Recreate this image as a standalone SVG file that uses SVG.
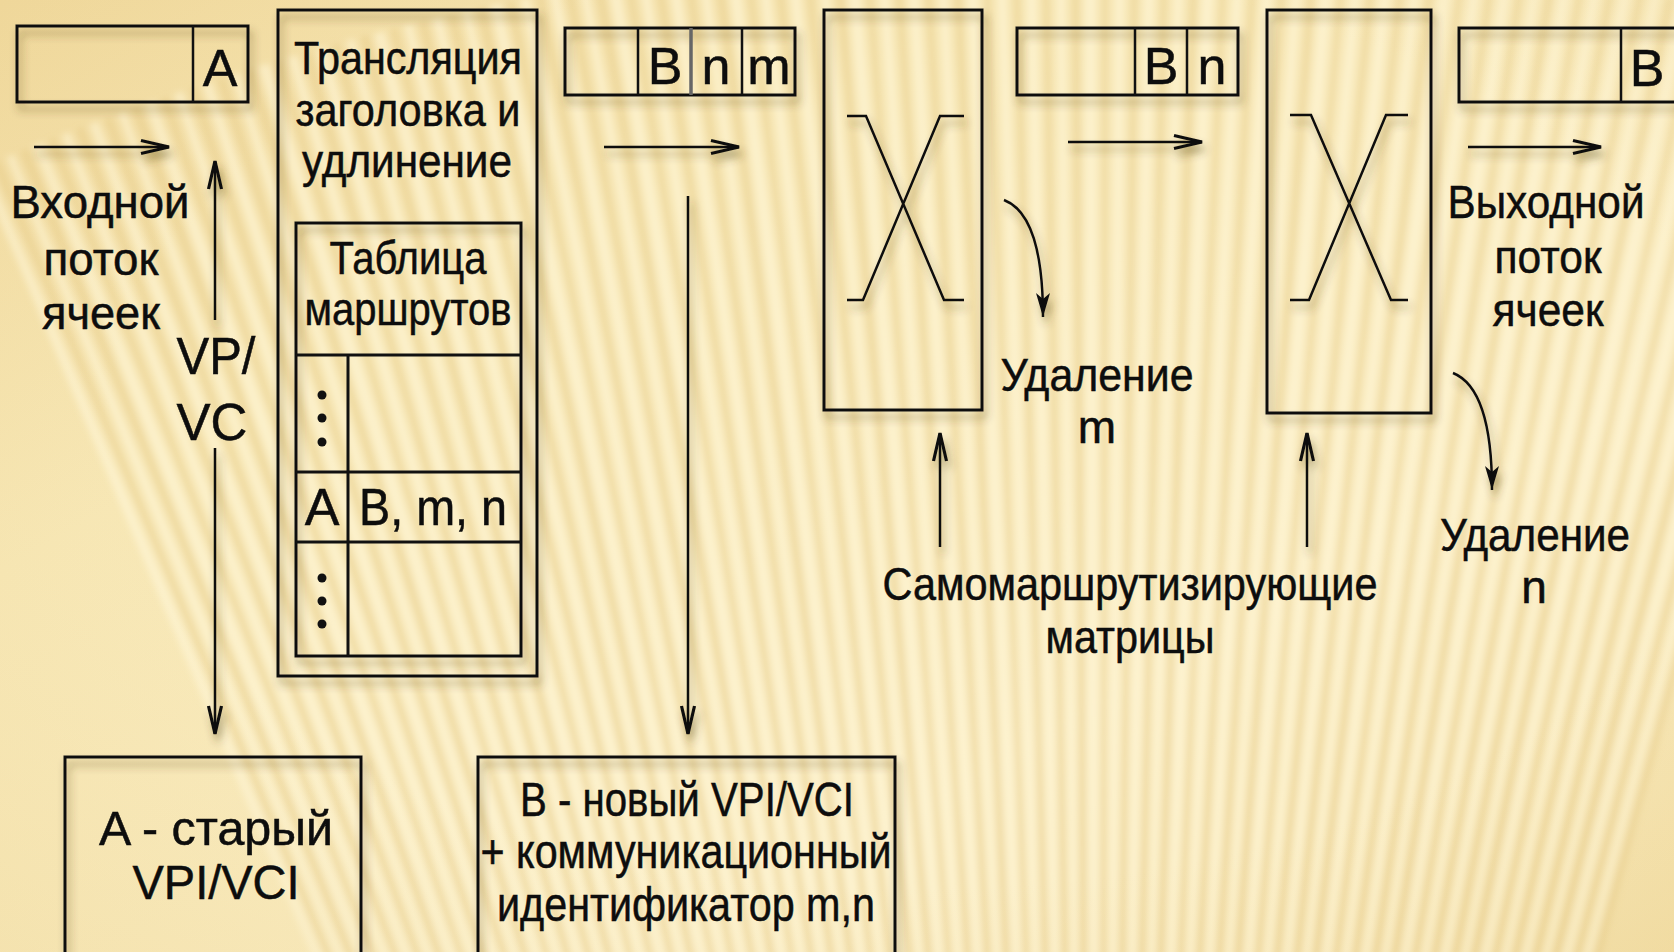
<svg xmlns="http://www.w3.org/2000/svg" xmlns:xlink="http://www.w3.org/1999/xlink" width="1674" height="952" viewBox="0 0 1674 952">
  <style>
    .t{font-family:"Liberation Sans",Arial,sans-serif;font-size:46px;fill:#0d0d0d;stroke:#0d0d0d;stroke-width:0.5;text-anchor:middle}
    .big{font-size:52px}
    .mid{font-size:48px}
    .box{fill:none;stroke:#111;stroke-width:3;filter:url(#sh)}
    .ln{fill:none;stroke:#111;stroke-width:3}
    .thin{fill:none;stroke:#111;stroke-width:2.5}
    .con{fill:none;stroke:#111;stroke-width:2.5;filter:url(#sh)}
    .arr{marker-end:url(#ah)}
    .carr{marker-end:url(#ahf)}
    .lt{stroke:#fff7d8;stroke-opacity:.6}
    .dk{stroke:#e0c27a;stroke-opacity:.32}
  </style>
  <defs>
    <linearGradient id="bg" x1="0" y1="0" x2="1" y2="1">
      <stop offset="0" stop-color="#f1da9f"/>
      <stop offset="0.3" stop-color="#f7e7b5"/>
      <stop offset="0.7" stop-color="#faecc1"/>
      <stop offset="1" stop-color="#f3dfa8"/>
    </linearGradient>
    <radialGradient id="vig" cx="0.55" cy="0.45" r="0.8">
      <stop offset="0.6" stop-color="#e6c982" stop-opacity="0"/>
      <stop offset="1" stop-color="#e2c478" stop-opacity="0.2"/>
    </radialGradient>
    <filter id="soft" filterUnits="userSpaceOnUse" x="0" y="0" width="1674" height="952">
      <feGaussianBlur stdDeviation="3"/>
    </filter>
    <filter id="sh" filterUnits="userSpaceOnUse" x="0" y="0" width="1674" height="952">
      <feGaussianBlur in="SourceAlpha" stdDeviation="4"/>
      <feOffset dx="3" dy="7" result="b"/>
      <feFlood flood-color="#4a3a10" flood-opacity="0.45"/>
      <feComposite in2="b" operator="in"/>
      <feMerge><feMergeNode/><feMergeNode in="SourceGraphic"/></feMerge>
    </filter>
    <!-- narrow barbed arrowhead -->
    <marker id="ah" viewBox="-32 -9 34 18" refX="0" refY="0" markerWidth="34" markerHeight="18" markerUnits="userSpaceOnUse" orient="auto">
      <path d="M-28,-6.5 L0,0 L-28,6.5" fill="none" stroke="#111" stroke-width="3.2"/>
    </marker>
    <marker id="ahf" viewBox="-26 -9 28 18" refX="0" refY="0" markerWidth="28" markerHeight="18" markerUnits="userSpaceOnUse" orient="auto">
      <path d="M-24,-7 L0,0 L-24,7 L-18,0 Z" fill="#111"/>
    </marker>
    <!-- one background ray from the vanishing point, repeated in a fan -->
    <line id="ray" x1="1100" y1="2800" x2="1100" y2="-60"/>
    <g id="r4">
      <use xlink:href="#ray" class="lt" stroke-width="10"/>
      <use xlink:href="#ray" class="dk" stroke-width="7" transform="rotate(0.3 1100 2800)"/>
      <use xlink:href="#ray" class="lt" stroke-width="8" transform="rotate(0.6 1100 2800)"/>
      <use xlink:href="#ray" class="dk" stroke-width="8" transform="rotate(0.9 1100 2800)"/>
      <use xlink:href="#ray" class="lt" stroke-width="11" transform="rotate(1.2 1100 2800)"/>
      <use xlink:href="#ray" class="dk" stroke-width="6" transform="rotate(1.5 1100 2800)"/>
      <use xlink:href="#ray" class="lt" stroke-width="9" transform="rotate(1.8 1100 2800)"/>
      <use xlink:href="#ray" class="dk" stroke-width="7" transform="rotate(2.1 1100 2800)"/>
    </g>
    <g id="r16">
      <use xlink:href="#r4"/>
      <use xlink:href="#r4" transform="rotate(2.4 1100 2800)"/>
      <use xlink:href="#r4" transform="rotate(4.8 1100 2800)"/>
      <use xlink:href="#r4" transform="rotate(7.2 1100 2800)"/>
    </g>
  </defs>

  <!-- background -->
  <rect width="1674" height="952" fill="url(#bg)"/>
  <g filter="url(#soft)">
    <use xlink:href="#r16" transform="rotate(-23 1100 2800)"/>
    <use xlink:href="#r16" transform="rotate(-13.4 1100 2800)"/>
    <use xlink:href="#r16" transform="rotate(-3.8 1100 2800)"/>
    <use xlink:href="#r16" transform="rotate(5.8 1100 2800)"/>
  </g>
  <rect width="1674" height="952" fill="url(#vig)"/>

  <!-- incoming cell with header A -->
  <g id="cell-in">
    <rect class="box" x="17" y="26" width="231" height="76"/>
    <line class="thin" x1="193" y1="26" x2="193" y2="102"/>
    <text class="t big" x="220" y="86">A</text>
  </g>

  <g id="label-in">
    <text class="t" x="100" y="218" textLength="179" lengthAdjust="spacingAndGlyphs">Входной</text>
    <text class="t" x="101" y="275" textLength="115" lengthAdjust="spacingAndGlyphs">поток</text>
    <text class="t" x="101" y="329" textLength="118" lengthAdjust="spacingAndGlyphs">ячеек</text>
  </g>

  <g id="label-vpvc">
    <text class="t big" x="216" y="374" textLength="79" lengthAdjust="spacingAndGlyphs">VP/</text>
    <text class="t big" x="212" y="440" textLength="71" lengthAdjust="spacingAndGlyphs">VC</text>
  </g>

  <!-- header translation unit with routing table -->
  <g id="translator">
    <rect class="box" x="278" y="10" width="259" height="666"/>
    <text class="t" x="408" y="74" textLength="228" lengthAdjust="spacingAndGlyphs">Трансляция</text>
    <text class="t" x="408" y="126" textLength="225" lengthAdjust="spacingAndGlyphs">заголовка и</text>
    <text class="t" x="407" y="177" textLength="210" lengthAdjust="spacingAndGlyphs">удлинение</text>
  </g>

  <g id="route-table">
    <rect class="box" x="296" y="223" width="225" height="433"/>
    <line class="ln" x1="296" y1="355" x2="521" y2="355"/>
    <line class="ln" x1="296" y1="472" x2="521" y2="472"/>
    <line class="ln" x1="296" y1="542" x2="521" y2="542"/>
    <line class="ln" x1="348" y1="355" x2="348" y2="656"/>
    <text class="t" x="408" y="274" textLength="157" lengthAdjust="spacingAndGlyphs">Таблица</text>
    <text class="t" x="408" y="325" textLength="207" lengthAdjust="spacingAndGlyphs">маршрутов</text>
    <g fill="#111">
      <circle cx="322" cy="395" r="4.5"/>
      <circle cx="322" cy="418" r="4.5"/>
      <circle cx="322" cy="442" r="4.5"/>
      <circle cx="322" cy="578" r="4.5"/>
      <circle cx="322" cy="601" r="4.5"/>
      <circle cx="322" cy="624" r="4.5"/>
    </g>
    <text class="t big" x="322" y="525">A</text>
    <text class="t big" x="433" y="525" textLength="148" lengthAdjust="spacingAndGlyphs">B, m, n</text>
  </g>

  <!-- extended cell B n m -->
  <g id="cell-bnm">
    <rect class="box" x="565" y="28" width="230" height="67"/>
    <line class="thin" x1="638" y1="28" x2="638" y2="95"/>
    <line x1="691" y1="28" x2="691" y2="95" stroke="#666" stroke-width="3.5"/>
    <line class="thin" x1="742" y1="28" x2="742" y2="95"/>
    <text class="t big" x="665" y="84">B</text>
    <text class="t big" x="716" y="84">n</text>
    <text class="t big" x="769" y="84">m</text>
  </g>

  <!-- first self-routing switch -->
  <g id="switch-1">
    <rect class="box" x="824" y="10" width="158" height="400"/>
    <path class="con" d="M847,116 H866 L944,300 H964 M964,116 H940 L863,300 H847"/>
  </g>

  <g id="label-del-m">
    <text class="t" x="1097" y="391" textLength="193" lengthAdjust="spacingAndGlyphs">Удаление</text>
    <text class="t" x="1097" y="443">m</text>
  </g>

  <!-- cell B n -->
  <g id="cell-bn">
    <rect class="box" x="1017" y="28" width="221" height="67"/>
    <line class="thin" x1="1135" y1="28" x2="1135" y2="95"/>
    <line class="thin" x1="1187" y1="28" x2="1187" y2="95"/>
    <text class="t big" x="1161" y="84">B</text>
    <text class="t big" x="1212" y="84">n</text>
  </g>

  <!-- second self-routing switch -->
  <g id="switch-2">
    <rect class="box" x="1267" y="10" width="164" height="403"/>
    <path class="con" d="M1290,115 H1311 L1391,300 H1408 M1408,115 H1386 L1309,300 H1290"/>
  </g>

  <g id="label-matrices">
    <text class="t" x="1130" y="600" textLength="495" lengthAdjust="spacingAndGlyphs">Самомаршрутизирующие</text>
    <text class="t" x="1130" y="653" textLength="169" lengthAdjust="spacingAndGlyphs">матрицы</text>
  </g>

  <g id="label-del-n">
    <text class="t" x="1535" y="551" textLength="190" lengthAdjust="spacingAndGlyphs">Удаление</text>
    <text class="t" x="1534" y="603">n</text>
  </g>

  <!-- outgoing cell with header B -->
  <g id="cell-out">
    <rect class="box" x="1459" y="28" width="230" height="74"/>
    <line class="thin" x1="1621" y1="28" x2="1621" y2="102"/>
    <text class="t big" x="1647" y="86">B</text>
  </g>

  <g id="label-out">
    <text class="t" x="1546" y="218" textLength="197" lengthAdjust="spacingAndGlyphs">Выходной</text>
    <text class="t" x="1548" y="273" textLength="107" lengthAdjust="spacingAndGlyphs">поток</text>
    <text class="t" x="1548" y="326" textLength="111" lengthAdjust="spacingAndGlyphs">ячеек</text>
  </g>

  <!-- legend boxes -->
  <g id="note-old">
    <rect class="box" x="65" y="757" width="296" height="230"/>
    <text class="t mid" x="216" y="845" textLength="234" lengthAdjust="spacingAndGlyphs">A - старый</text>
    <text class="t mid" x="216" y="899" textLength="167" lengthAdjust="spacingAndGlyphs">VPI/VCI</text>
  </g>

  <g id="note-new">
    <rect class="box" x="478" y="757" width="417" height="230"/>
    <text class="t mid" x="687" y="816" textLength="334" lengthAdjust="spacingAndGlyphs">B - новый VPI/VCI</text>
    <text class="t mid" x="686" y="868" textLength="411" lengthAdjust="spacingAndGlyphs">+ коммуникационный</text>
    <text class="t mid" x="686" y="921" textLength="378" lengthAdjust="spacingAndGlyphs">идентификатор m,n</text>
  </g>

  <!-- connectors -->
  <g id="connectors">
    <line class="con arr" x1="34" y1="147" x2="169" y2="147"/>
    <line class="con arr" x1="604" y1="147" x2="739" y2="147"/>
    <line class="con arr" x1="1068" y1="142" x2="1202" y2="142"/>
    <line class="con arr" x1="1468" y1="147" x2="1601" y2="147"/>
    <line class="con arr" x1="215" y1="320" x2="215" y2="161"/>
    <line class="con arr" x1="215" y1="448" x2="215" y2="734"/>
    <line class="con arr" x1="688" y1="196" x2="688" y2="734"/>
    <line class="con arr" x1="940" y1="547" x2="940" y2="433"/>
    <line class="con arr" x1="1307" y1="547" x2="1307" y2="433"/>
    <path class="con carr" d="M1004,200 C1030,210 1043,250 1043,317"/>
    <path class="con carr" d="M1453,373 C1478,383 1492,420 1492,490"/>
  </g>
</svg>
